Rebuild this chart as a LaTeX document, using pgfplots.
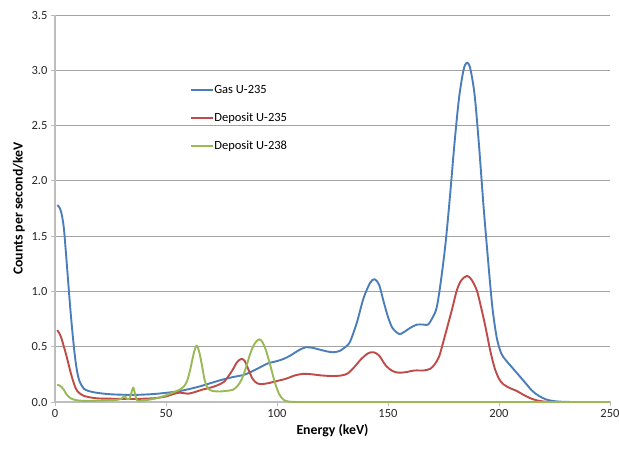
\documentclass[border=0pt]{standalone}
\usepackage{fontspec}
\setmainfont{Carlito}
\usepackage{pgfplots}
\pgfplotsset{compat=1.18}
\definecolor{cblue}{HTML}{4A7EBB}
\definecolor{cred}{HTML}{BE4B48}
\definecolor{cgreen}{HTML}{98B954}
\definecolor{cgrid}{HTML}{8C8C8C}
\definecolor{caxis}{HTML}{BDBDBD}
\begin{document}
\begin{tikzpicture}
\useasboundingbox (-55pt,-46pt) rectangle (564pt,402pt);
\begin{axis}[
  at={(0pt,0pt)}, anchor=south west,
  scale only axis, width=555pt, height=387pt,
  xmin=0, xmax=250, ymin=0, ymax=3.5,
  xtick={0,50,...,250},
  ytick={0,0.5,...,3.5},
  axis x line*=bottom, axis y line*=left,
  axis line style={draw=caxis, line width=1.1pt, -},
  ymajorgrids, grid style={draw=cgrid!80, line width=0.8pt},
  tick align=outside, major tick length=4pt,
  tick style={draw=caxis, line width=0.8pt},
  /pgf/number format/assume math mode=true,
  yticklabel style={/pgf/number format/.cd, fixed, fixed zerofill, precision=1},
  ticklabel style={font=\fontsize{12.5}{14}\selectfont, text=black!85},
  xlabel={\textbf{Energy (keV)}}, ylabel={\textbf{Counts per second/keV}},
  label style={font=\fontsize{13.8}{15}\selectfont},
  legend style={draw=none, fill=none, at={(0.243,0.824)}, anchor=north west,
    font=\fontsize{12.5}{14}\selectfont, row sep=14pt, inner sep=0pt,
    nodes={inner xsep=1pt}},
  legend cell align=left,
  legend image code/.code={\draw[#1, line width=1.3pt, sharp plot] plot coordinates {(0pt,0pt) (22pt,0pt)};},
  every axis plot/.append style={line width=1.9pt, line join=round},
  clip=false,
]
\addplot[cblue, smooth, tension=0.5] coordinates {
(1,1.78)(2,1.76)(3,1.70)(4,1.57)(5,1.33)(6,1.07)(7,0.82)(8,0.60)(9,0.41)(10,0.27)(11,0.19)(12,0.15)(13,0.12)(15,0.10)(17,0.09)(20,0.08)(25,0.07)(30,0.066)(35,0.064)(40,0.067)(45,0.073)(50,0.083)(55,0.095)(60,0.115)(65,0.14)(70,0.17)(75,0.20)(80,0.225)(85,0.245)(88,0.27)(92,0.31)(96,0.35)(100,0.37)(103,0.39)(106,0.42)(110,0.47)(113,0.495)(116,0.49)(119,0.475)(122,0.46)(125,0.45)(128,0.46)(131,0.50)(133,0.55)(136,0.72)(139,0.94)(142,1.08)(144,1.11)(146,1.06)(148,0.91)(150,0.77)(152,0.67)(155,0.615)(157,0.63)(160,0.67)(163,0.70)(166,0.70)(168,0.70)(170,0.76)(172,0.86)(174,1.12)(176,1.45)(178,1.88)(180,2.35)(182,2.75)(184,3.00)(185.5,3.07)(187,3.02)(189,2.78)(191,2.32)(193,1.78)(195,1.30)(197,0.86)(199,0.58)(201,0.44)(203,0.38)(206,0.31)(209,0.24)(212,0.17)(215,0.10)(218,0.055)(221,0.025)(224,0.01)(227,0.004)(230,0.001)(235,0)(240,0)(245,0)(250,0)
};
\addlegendentry{Gas U-235}
\addplot[cred, smooth, tension=0.5] coordinates {
(1,0.65)(2,0.62)(3,0.57)(4,0.50)(5,0.43)(6,0.35)(7,0.27)(8,0.20)(9,0.14)(10,0.10)(11,0.08)(13,0.055)(15,0.045)(18,0.035)(21,0.031)(25,0.03)(30,0.028)(35,0.027)(40,0.03)(45,0.035)(50,0.05)(53,0.07)(56,0.085)(58,0.08)(60,0.075)(63,0.09)(66,0.11)(70,0.13)(73,0.15)(76,0.18)(78,0.23)(80,0.29)(82,0.36)(84,0.39)(85.5,0.37)(87,0.30)(89,0.21)(91,0.17)(93,0.162)(96,0.17)(100,0.19)(104,0.21)(108,0.24)(112,0.255)(116,0.25)(120,0.24)(125,0.235)(129,0.24)(132,0.26)(135,0.32)(138,0.39)(141,0.44)(143.5,0.45)(146,0.42)(149,0.33)(152,0.28)(155,0.265)(158,0.27)(162,0.285)(166,0.285)(169,0.30)(171,0.34)(173,0.41)(175,0.55)(177,0.70)(179,0.85)(181,1.01)(183,1.10)(185.5,1.14)(187.5,1.11)(190,1.01)(192,0.85)(194,0.67)(196,0.47)(198,0.31)(200,0.21)(202,0.16)(205,0.125)(208,0.10)(211,0.065)(214,0.035)(217,0.015)(220,0.005)(223,0.001)(226,0)(230,0)(235,0)(240,0)(245,0)(250,0)
};
\addlegendentry{Deposit U-235}
\addplot[cgreen, smooth, tension=0.5] coordinates {
(1,0.155)(2,0.15)(3,0.135)(4,0.11)(5,0.075)(6,0.05)(7,0.035)(8,0.025)(10,0.015)(13,0.01)(16,0.01)(20,0.012)(24,0.015)(28,0.02)(30,0.03)(31.3,0.055)(32.3,0.03)(33.5,0.028)(34.5,0.09)(35.3,0.13)(36.2,0.06)(37,0.015)(39,0.012)(42,0.02)(46,0.035)(50,0.06)(53,0.085)(56,0.11)(58,0.14)(59.5,0.19)(61,0.30)(62.5,0.44)(63.8,0.51)(65,0.45)(66.3,0.32)(67.5,0.19)(69,0.12)(71,0.10)(74,0.095)(77,0.10)(80,0.11)(82,0.14)(84,0.2)(86,0.31)(88,0.44)(90,0.53)(92,0.567)(93.5,0.54)(95,0.47)(97,0.33)(99,0.18)(101,0.07)(103,0.02)(105,0.005)(107,0.001)(110,0)(115,0)(120,0)(130,0)(140,0)(150,0)(160,0)(170,0)(180,0)(190,0)(200,0)(210,0)(220,0)(230,0)(240,0)(250,0)
};
\addlegendentry{Deposit U-238}
\end{axis}
\end{tikzpicture}
\end{document}
